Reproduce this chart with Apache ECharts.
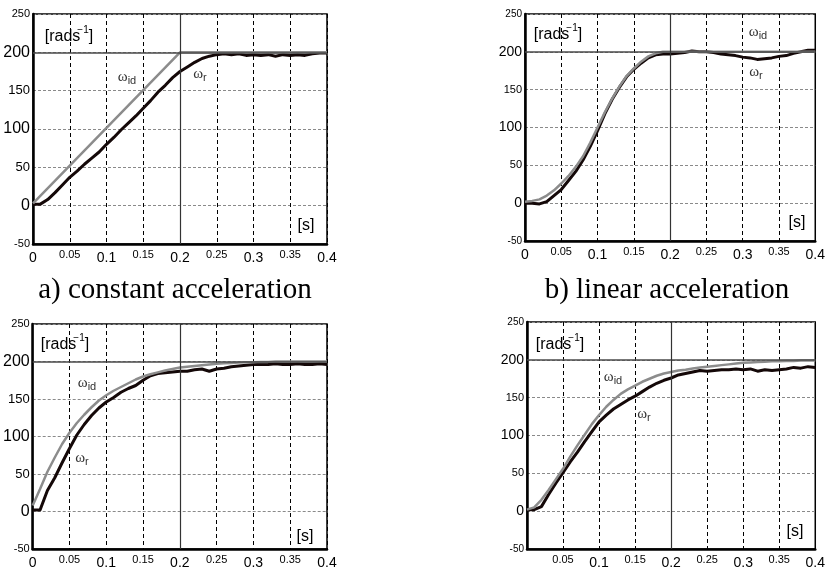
<!DOCTYPE html>
<html><head><meta charset="utf-8">
<script src="https://cdn.jsdelivr.net/npm/echarts@6/dist/echarts.min.js"></script>
<style>html,body{margin:0;padding:0;background:#fff}#c{width:828px;height:570px}</style>
</head><body><div id="c"></div>
<script>
// ---------- data ----------
const timeGrid = [0,0.01,0.02,0.03,0.04,0.05,0.06,0.07,0.08,0.09,0.1,0.11,0.12,0.13,0.14,0.15,0.16,0.17,0.18,0.19,0.2,
  0.21,0.22,0.23,0.24,0.25,0.26,0.27,0.28,0.29,0.3,0.31,0.32,0.33,0.34,0.35,0.36,0.37,0.38,0.39,0.4];

// a) constant acceleration
const timeIdA = [0, 0.2, 0.4];
const omegaIdA = [3, 200, 200];
const omegaRA = [2,2,8,17,27,37,45,54,62,70,80,89,99,108,117,127,137,148,157,167,175,181,187,192,195,197,198,197,198,196,197,196,197,195,197,196,197,196,198,199,199];

// b) linear acceleration
const omegaIdB = [2,3,5,10,17,26,36,48,62,80,100,120,138,154,168,178,187,194,198,200,200,200,200,200,200,200,200,200,200,200,200,200,200,200,200,200,200,200,200,200,200];
const omegaRB = [0,0,-1,2,10,18,30,42,57,75,96,118,137,153,167,177,185,192,196,197,197,198,199,201,200,200,199,197,196,195,193,192,190,191,192,194,195,198,200,202,202];

// c)
const omegaIdC = [8,30,53,72,90,105,118,129,139,148,155,161,166,171,176,180,183,185.5,188,190,192,193,194,195,196,197,197.5,198,198.5,199,199,199.5,199.5,200,200,200,200,200,200,200,200];
const omegaRC = [2,2,28,45,65,84,102,116,128,138,146,152,159,164,168,175,181,184,185,186,187,187,189,190,187,190,191,193,194,195,196,196,196,197,196,196,197,196,196,197,196];

// d)
const omegaIdD = [2,5,15,28,42,56,72,87,101,115,127,138,147,155,161,166,171,175,179,182,184,186,187,188.5,190,191,192,193,194,195,196,196.5,197,197.5,198,198,198.5,198.5,199,199,199];
const omegaRD = [2,2,6,22,37,51,65,78,92,105,118,127,135,141,147,152,158,164,169,173,176,180,182,184,186,185,186,187,187,188,187,188,185,187,186,187,188,190,189,191,190];

const refSpeed = 200;
const refTime = 0.2;
const xTickLabels = ['0','0.05','0.1','0.15','0.2','0.25','0.3','0.35','0.4'];
const yTickLabels = ['-50','0','50','100','150','200','250'];
const captions = ['a) constant acceleration', 'b) linear acceleration'];
const labelRads = '[rads';
const labelRadsSup = '\u22121';
const labelTime = '[s]';

// ---------- layout / style ----------
const panels = [
  {grid:{left:33,top:14,width:294,height:230}, tId:timeIdA, id:omegaIdA, tR:timeGrid, r:omegaRA, yB:16, yM:13, yS:11, showX0:true,
   ann:{rads:[69,35], wid:[127,78], wr:[200,75], s:[306,226]}},
  {grid:{left:525,top:14,width:293,height:227}, tId:timeGrid, id:omegaIdB, tR:timeGrid, r:omegaRB, yB:14, yM:11, yS:10, showX0:true,
   ann:{rads:[558,33], wid:[758,33], wr:[756,73], s:[797,223]}},
  {grid:{left:31,top:324,width:296,height:230}, tId:timeGrid, id:omegaIdC, tR:timeGrid, r:omegaRC, yB:16, yM:13, yS:11, showX0:true,
   ann:{rads:[65,343], wid:[87,384], wr:[82,459], s:[305,537]}},
  {grid:{left:527,top:322,width:291,height:231}, tId:timeGrid, id:omegaIdD, tR:timeGrid, r:omegaRD, yB:14, yM:11, yS:10, showX0:false,
   ann:{rads:[560,343], wid:[613,378], wr:[644,415], s:[795,532]}}
];
const SANS = 'Liberation Sans, Arial, sans-serif';
const SERIF = 'Liberation Serif, Times New Roman, serif';

const zip = (t, v) => t.map((x, i) => [x, v[i]]);

const grids = [], xAxes = [], yAxes = [], series = [], graphics = [];
panels.forEach((p, i) => {
  grids.push(Object.assign({show:true, borderColor:'#000', borderWidth:1.5, backgroundColor:'#fff', containLabel:false}, p.grid));
  xAxes.push({
    type:'value', gridIndex:i, min:0, max:0.4, interval:0.05,
    axisLine:{show:true, onZero:false, lineStyle:{color:'#000', width:2.5}},
    axisTick:{show:false},
    splitLine:{show:true, lineStyle:{color:'#000', width:1, type:[4,3]}},
    axisLabel:{
      margin:5, color:'#000', fontFamily:SANS, showMinLabel:true, showMaxLabel:true,
      formatter:(v) => {
        const k = Math.round(v * 100);
        const s = xTickLabels[k / 5];
        if (k === 0 && !p.showX0) return '';
        return (k % 10 === 0) ? '{b|' + s + '}' : '{s|' + s + '}';
      },
      rich:{ b:{fontSize:14, fontFamily:SANS, color:'#000', lineHeight:16, verticalAlign:'bottom'},
             s:{fontSize:11, fontFamily:SANS, color:'#000', lineHeight:11, verticalAlign:'top'} }
    }
  });
  yAxes.push({
    type:'value', gridIndex:i, min:-50, max:250, interval:50,
    axisLine:{show:true, onZero:false, lineStyle:{color:'#000', width:2.5}},
    axisTick:{show:false},
    splitLine:{show:true, lineStyle:{color:'#8a8a8a', width:1, type:[3,2]}},
    axisLabel:{
      margin:3, color:'#000', fontFamily:SANS,
      formatter:(v) => {
        const s = yTickLabels[(v + 50) / 50];
        if (v === 200 || v === 100 || v === 0) return '{b|' + s + '}';
        if (v === 150 || v === 50) return '{m|' + s + '}';
        return '{s|' + s + '}';
      },
      rich:{ b:{fontSize:p.yB, fontFamily:SANS, color:'#000'},
             m:{fontSize:p.yM, fontFamily:SANS, color:'#000'},
             s:{fontSize:p.yS, fontFamily:SANS, color:'#000'} }
    }
  });
  series.push({
    type:'line', xAxisIndex:i, yAxisIndex:i, data:[], z:1, silent:true,
    markLine:{silent:true, symbol:['none','none'], label:{show:false}, animation:false,
      data:[{yAxis:refSpeed, lineStyle:{color:'#4a4a4a', width:1.5, type:'solid'}},
            {xAxis:refTime, lineStyle:{color:'#333', width:1.2, type:'solid'}}]}
  });
  series.push({
    name:'\u03c9r', type:'line', xAxisIndex:i, yAxisIndex:i, data:zip(p.tR, p.r), showSymbol:false, z:3,
    lineStyle:{color:'#140808', width:3, join:'round'}
  });
  series.push({
    name:'\u03c9id', type:'line', xAxisIndex:i, yAxisIndex:i, data:zip(p.tId, p.id), showSymbol:false, z:4,
    lineStyle:{color:'#8c8c8c', width:2.5}
  });
  const a = p.ann;
  graphics.push({type:'text', x:a.rads[0], y:a.rads[1], z:10, style:{
    text:'{b|' + labelRads + '}{sup|' + labelRadsSup + '}{b|]}', align:'center', verticalAlign:'middle',
    rich:{ b:{fontSize:16, fontFamily:SANS, fill:'#000', color:'#000', lineHeight:20, verticalAlign:'bottom'},
           sup:{fontSize:10, fontFamily:SANS, fill:'#000', color:'#000', lineHeight:10, verticalAlign:'top', padding:[0,0,0,-3]} } }});
  graphics.push({type:'text', x:a.wid[0], y:a.wid[1], z:10, style:{
    text:'{w|\u03c9}{u|id}', align:'center', verticalAlign:'middle',
    rich:{ w:{fontSize:15, fontFamily:SERIF, fill:'#333', color:'#333', lineHeight:16, verticalAlign:'top'},
           u:{fontSize:11, fontFamily:SANS, fill:'#333', color:'#333', lineHeight:11, verticalAlign:'bottom'} } }});
  graphics.push({type:'text', x:a.wr[0], y:a.wr[1], z:10, style:{
    text:'{w|\u03c9}{u|r}', align:'center', verticalAlign:'middle',
    rich:{ w:{fontSize:15, fontFamily:SERIF, fill:'#333', color:'#333', lineHeight:16, verticalAlign:'top'},
           u:{fontSize:11, fontFamily:SANS, fill:'#333', color:'#333', lineHeight:11, verticalAlign:'bottom'} } }});
  graphics.push({type:'text', x:a.s[0], y:a.s[1], z:10, style:{
    text:labelTime, align:'center', verticalAlign:'middle', fontSize:16, fontFamily:SANS, fill:'#000'}});
});
graphics.push({type:'text', x:175, y:290, style:{text:captions[0], align:'center', verticalAlign:'middle', fontSize:29, fontFamily:SERIF, fill:'#000'}});
graphics.push({type:'text', x:667, y:290, style:{text:captions[1], align:'center', verticalAlign:'middle', fontSize:29, fontFamily:SERIF, fill:'#000'}});

const chart = echarts.init(document.getElementById('c'), null, {renderer:'canvas'});
chart.setOption({
  animation:false,
  backgroundColor:'#fff',
  grid:grids, xAxis:xAxes, yAxis:yAxes, series:series, graphic:graphics
});
</script></body></html>
